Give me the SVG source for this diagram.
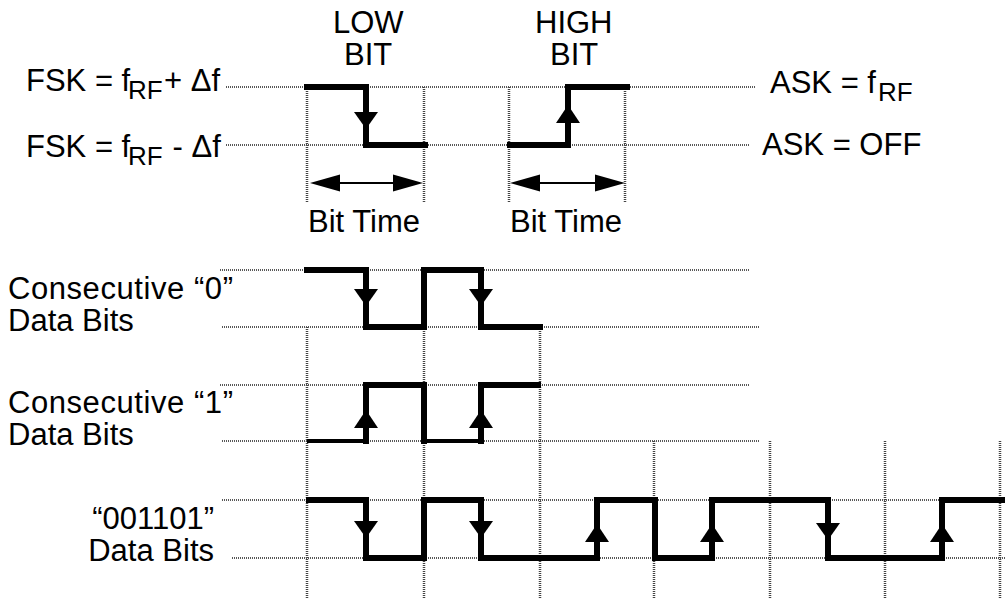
<svg xmlns="http://www.w3.org/2000/svg" width="1005" height="598" viewBox="0 0 1005 598">
<style>
  text { font-family: "Liberation Sans", Arial, sans-serif; font-size: 31px; fill: #000; }
  .sub { font-size: 26px; }
  .h { stroke: #222; stroke-width: 1.5; stroke-dasharray: 1 1; fill: none; }
  .v { stroke: #444; stroke-width: 2.5; stroke-dasharray: 1 1; fill: none; }
  .w { stroke: #000; stroke-width: 6; fill: none; stroke-linejoin: miter; stroke-linecap: butt; }
  .wt { stroke: #000; stroke-width: 4; fill: none; }
  .ah { fill: #000; stroke: none; }
  .dim { stroke: #000; stroke-width: 2; fill: none; }
</style>
<defs>
  <polygon id="dn" class="ah" points="-12,0 12,0 0,17"/>
  <polygon id="up" class="ah" points="-12,0 12,0 0,-18"/>
</defs>

<g id="grid">
  <line class="h" x1="226" y1="87" x2="755" y2="87"/>
  <line class="h" x1="226" y1="145" x2="750" y2="145"/>
  <line class="v" x1="307" y1="87" x2="307" y2="203"/>
  <line class="v" x1="424" y1="87" x2="424" y2="203"/>
  <line class="v" x1="509" y1="87" x2="509" y2="203"/>
  <line class="v" x1="625" y1="87" x2="625" y2="203"/>
  <line class="h" x1="220" y1="270" x2="750" y2="270"/>
  <line class="h" x1="222" y1="327" x2="760" y2="327"/>
  <line class="h" x1="220" y1="385" x2="750" y2="385"/>
  <line class="h" x1="222" y1="441" x2="760" y2="441"/>
  <line class="h" x1="222" y1="500" x2="1005" y2="500"/>
  <line class="h" x1="232" y1="558" x2="1005" y2="558"/>
  <line class="v" x1="307" y1="327" x2="307" y2="598"/>
  <line class="v" x1="424" y1="327" x2="424" y2="598"/>
  <line class="v" x1="540" y1="327" x2="540" y2="598"/>
  <line class="v" x1="654" y1="441" x2="654" y2="598"/>
  <line class="v" x1="770" y1="441" x2="770" y2="598"/>
  <line class="v" x1="885" y1="441" x2="885" y2="598"/>
  <line class="v" x1="1000" y1="441" x2="1000" y2="598"/>
</g>

<g id="labels">
  <text x="333" y="33">LOW</text>
  <text x="344" y="65">BIT</text>
  <text x="535" y="33">HIGH</text>
  <text x="550" y="65">BIT</text>
  <text x="26" y="91">FSK = f<tspan class="sub" x="128" y="99">RF</tspan><tspan x="164" y="91">+ Δf</tspan></text>
  <text x="26" y="157">FSK = f<tspan class="sub" x="128" y="165">RF</tspan><tspan x="164" y="157"> - Δf</tspan></text>
  <text x="770" y="93">ASK = f<tspan class="sub" x="878" y="101">RF</tspan></text>
  <text x="762" y="155">ASK = OFF</text>
  <text x="308" y="232">Bit Time</text>
  <text x="510" y="232">Bit Time</text>
  <text x="8" y="299" textLength="225">Consecutive “0”</text>
  <text x="8" y="331">Data Bits</text>
  <text x="8" y="413" textLength="225">Consecutive “1”</text>
  <text x="8" y="445">Data Bits</text>
  <text x="214" y="529" text-anchor="end">“001101”</text>
  <text x="214" y="561" text-anchor="end">Data Bits</text>
</g>

<g id="bit-time">
  <line class="dim" x1="330" y1="183" x2="403" y2="183"/>
  <polygon class="ah" points="310,183 340,174.5 340,191.5"/>
  <polygon class="ah" points="423,183 393,174.5 393,191.5"/>
  <line class="dim" x1="530" y1="183" x2="605" y2="183"/>
  <polygon class="ah" points="510,183 540,174.5 540,191.5"/>
  <polygon class="ah" points="625,183 595,174.5 595,191.5"/>
</g>

<g id="low-bit">
  <path class="w" d="M304,87 H366 V145 H428"/>
  <use href="#dn" x="366" y="112"/>
</g>
<g id="high-bit">
  <path class="w" d="M507,145 H568 V87 H630"/>
  <use href="#up" x="568" y="123"/>
</g>

<g id="consecutive-0">
  <path class="w" d="M304,270 H366 V327 H424 V270 H481 V327 H543"/>
  <use href="#dn" x="366" y="289"/>
  <use href="#dn" x="481" y="289"/>
</g>

<g id="consecutive-1">
  <path class="wt" d="M307,441 H366"/>
  <path class="wt" d="M424,441 H481"/>
  <path class="w" d="M366,444 V385 H424 V444"/>
  <path class="w" d="M481,444 V385 H541"/>
  <use href="#up" x="366" y="428"/>
  <use href="#up" x="481" y="428"/>
</g>

<g id="data-001101">
  <path class="w" d="M306,500 H366 V558 H424 V500 H481 V558 H597 V500 H655 V558 H712 V500 H828 V558 H942 V500 H1005"/>
  <use href="#dn" x="366" y="521"/>
  <use href="#dn" x="481" y="521"/>
  <use href="#up" x="597" y="542"/>
  <use href="#up" x="712" y="542"/>
  <use href="#dn" x="828" y="523"/>
  <use href="#up" x="942" y="542"/>
</g>
</svg>
